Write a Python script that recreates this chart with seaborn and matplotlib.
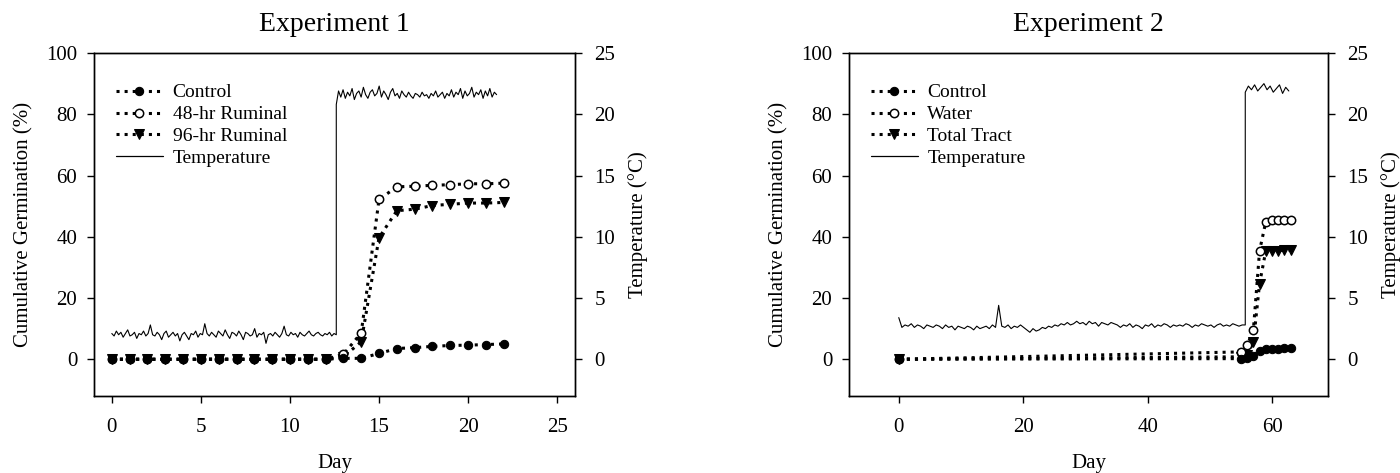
import numpy as np
import pandas as pd
import seaborn as sns
import matplotlib.pyplot as plt
from matplotlib.lines import Line2D

# ---- Experiment 1: cumulative germination (%) ----
exp1_days = list(range(0, 23))
ctrl1 = [0, 0, 0, 0, 0, 0, 0, 0, 0, 0, 0, 0, 0, 0.3, 0.3, 1.9, 3.5, 3.8, 4.2, 4.5, 4.6, 4.8, 5.0]
rum48 = [0, 0, 0, 0, 0, 0, 0, 0, 0, 0, 0, 0, 0, 1.6, 8.6, 52.2, 56.3, 56.5, 56.8, 57.0, 57.3, 57.3, 57.5]
rum96 = [0, 0, 0, 0, 0, 0, 0, 0, 0, 0, 0, 0, 0, 0.8, 5.7, 39.7, 48.5, 49.0, 50.2, 50.6, 51.0, 51.0, 51.2]

# Experiment 1 temperature (deg C), cold phase then warm phase
temp1_low = [2.1, 1.9, 2.3, 2.0, 2.2, 1.8, 2.1, 2.4, 1.9, 2.0,
             2.2, 1.7, 2.1, 2.0, 2.3, 1.9, 2.1, 2.8, 2.0, 1.9,
             2.2, 2.0, 1.6, 2.1, 2.3, 1.8, 2.0, 2.2, 1.9, 2.1,
             1.5, 2.0, 2.2, 1.9, 1.6, 2.1, 2.0, 2.3, 1.8, 2.1,
             2.0, 2.9, 2.1, 1.9, 2.2, 2.0, 1.8, 2.3, 2.1, 1.9,
             2.4, 2.0, 1.7, 2.2, 2.1, 1.9, 2.3, 2.0, 1.6, 2.2,
             2.1, 1.9, 2.0, 2.5, 1.8, 2.1, 2.0, 2.2, 1.3, 2.0,
             2.1, 1.9, 2.2, 2.0, 1.8, 2.1, 2.7, 2.0, 1.9, 2.2,
             2.0, 2.1, 1.8, 2.2, 2.0, 1.9, 2.1, 2.3, 2.0, 1.9,
             2.1, 2.2, 2.0, 1.9, 2.1, 2.0, 2.2, 1.9, 2.1, 2.0]
temp1_high = [20.8, 21.9, 21.4, 22.0, 21.3, 21.8, 21.5, 22.1, 21.2, 21.7,
              21.9, 21.4, 22.2, 21.6, 21.3, 21.8, 22.0, 21.5, 21.7, 22.3,
              21.4, 21.9, 21.6, 21.2, 21.8, 22.1, 21.5, 21.7, 21.3, 21.9,
              21.6, 21.4, 21.8, 21.5, 21.3, 21.7, 21.6, 21.4, 21.8, 21.5,
              21.6, 21.3, 21.7, 21.5, 21.9, 21.4, 21.6, 21.8, 21.3, 21.7,
              21.5, 22.0, 21.4, 21.8, 21.6, 22.1, 21.3, 21.9, 21.5, 21.7,
              22.2, 21.4, 21.8, 21.6, 22.0, 21.3, 21.9, 21.5, 22.1, 21.4,
              21.8, 21.6]
temp1_switch, temp1_end = 12.6, 21.6

# ---- Experiment 2 ----
exp2_days = [0, 55, 56, 57, 58, 59, 60, 61, 62, 63]
ctrl2 = [0, 0.2, 0.5, 1.2, 2.8, 3.4, 3.5, 3.5, 3.6, 3.6]
water2 = [0, 2.4, 4.5, 9.5, 35.4, 44.9, 45.4, 45.5, 45.6, 45.6]
tract2 = [0, 0.8, 1.5, 5.5, 24.7, 35.4, 35.5, 35.5, 35.6, 35.6]

temp2_low = [3.4, 2.6, 2.8, 2.7, 2.9, 2.6, 2.8, 2.7, 2.5, 2.8, 2.7,
             2.6, 2.8, 2.7, 2.5, 2.8, 2.6, 2.7, 2.4, 2.7, 2.6,
             2.5, 2.7, 2.6, 2.4, 2.7, 2.5, 2.6, 2.7, 2.5, 2.8, 2.6,
             4.4,
             2.7, 2.6, 2.8, 2.5, 2.7, 2.6, 2.8, 2.6,
             2.4, 2.2, 2.5, 2.3, 2.4, 2.6, 2.5, 2.7, 2.6, 2.8,
             2.7, 2.9, 2.8, 3.0, 2.8, 2.9, 3.1, 2.9, 3.0, 2.8, 3.1, 2.9, 3.0, 2.7, 3.0, 2.9, 2.8, 3.0, 2.9, 2.8,
             2.6, 2.8, 2.7, 2.9, 2.6, 2.8, 2.7, 2.5, 2.8, 2.7, 2.9, 2.6, 2.8, 2.7, 2.9, 2.8, 2.6, 2.8, 2.7, 2.8,
             2.7, 2.9, 2.8, 2.6, 2.8, 2.7, 2.9, 2.8, 2.7, 2.8, 2.6, 2.8, 2.9, 2.7, 2.8, 2.7, 2.9, 2.8, 2.7, 2.8, 2.8]
temp2_high = [21.8, 22.3, 22.0, 22.4, 21.9, 22.2, 22.5, 22.0, 22.3, 21.8, 22.1, 22.4, 21.7, 22.2, 21.9]
temp2_switch, temp2_end = 55.7, 62.7

sns.set_style("ticks", {"axes.edgecolor": "black", "xtick.color": "black",
                        "ytick.color": "black", "text.color": "black",
                        "axes.labelcolor": "black"})
plt.rcParams['font.family'] = ['Liberation Serif', 'DejaVu Serif']

fig = plt.figure(figsize=(14, 4.73), dpi=100)
W, H = 1400, 473


def panel(left, right, title, days, series, legend_order, t_low, t_high, t_switch, t_end,
          xlim, xticks):
    ax = fig.add_axes([left / W, 1 - 396 / H, (right - left) / W, (396 - 53) / H])
    tw = ax.twinx()

    for name, vals, style in series:
        sns.lineplot(x=days, y=vals, ax=ax, color='black', linestyle=':', linewidth=2.2,
                     estimator=None, sort=False, label=name, legend=False, **style)

    t_days = np.concatenate([np.linspace(0, t_switch, len(t_low)),
                             np.linspace(t_switch, t_end, len(t_high))])
    t_vals = np.concatenate([t_low, t_high])
    sns.lineplot(x=t_days, y=t_vals, ax=tw, color='black', linewidth=0.8,
                 estimator=None, sort=False, legend=False)

    ax.set_xlim(*xlim)
    ax.set_ylim(-12, 100)
    tw.set_ylim(-3, 25)
    ax.set_xticks(xticks)
    ax.set_yticks([0, 20, 40, 60, 80, 100])
    tw.set_yticks([0, 5, 10, 15, 20, 25])
    ax.tick_params(axis='x', direction='out', length=5, width=1, labelsize=15, pad=11)
    ax.tick_params(axis='y', direction='out', length=5, width=1, labelsize=15, pad=7)
    tw.tick_params(axis='y', direction='out', length=5, width=1, labelsize=15, pad=9)
    for sp in list(ax.spines.values()) + list(tw.spines.values()):
        sp.set_visible(True)
        sp.set_linewidth(1)
        sp.set_color('black')

    ax.set_title(title, fontsize=20, pad=16)
    ax.set_xlabel("Day", fontsize=15, labelpad=12)
    ax.set_ylabel("Cumulative Germination (%)", fontsize=15, labelpad=9)
    tw.set_ylabel("Temperature (\u00b0C)", fontsize=15, labelpad=9)

    hmap = {h.get_label(): h for h in ax.get_lines()}
    handles = [hmap[name] for name in legend_order]
    labels = list(legend_order)
    handles.append(Line2D([], [], color='black', linewidth=0.9))
    labels.append('Temperature')
    tw.legend(handles, labels, loc='upper left', bbox_to_anchor=(0.046, 0.91),
              frameon=False, fontsize=14, handlelength=2.4, handletextpad=0.5,
              labelspacing=0.22, borderpad=0, borderaxespad=0, numpoints=1)
    return ax, tw


filled = dict(marker='o', markersize=6, markerfacecolor='black', markeredgecolor='black')
opened = dict(marker='o', markersize=6, markerfacecolor='white', markeredgecolor='black',
              markeredgewidth=1.1)
tri = dict(marker='v', markersize=6.5, markerfacecolor='black', markeredgecolor='black')

panel(94, 575, "Experiment 1", exp1_days,
      [("96-hr Ruminal", rum96, tri), ("48-hr Ruminal", rum48, opened), ("Control", ctrl1, filled)],
      ["Control", "48-hr Ruminal", "96-hr Ruminal"],
      temp1_low, temp1_high, temp1_switch, temp1_end, (-1, 26), [0, 5, 10, 15, 20, 25])

panel(849, 1328, "Experiment 2", exp2_days,
      [("Total Tract", tract2, tri), ("Water", water2, opened), ("Control", ctrl2, filled)],
      ["Control", "Water", "Total Tract"],
      temp2_low, temp2_high, temp2_switch, temp2_end, (-8, 69), [0, 20, 40, 60])

fig.savefig("out.png", dpi=100)
